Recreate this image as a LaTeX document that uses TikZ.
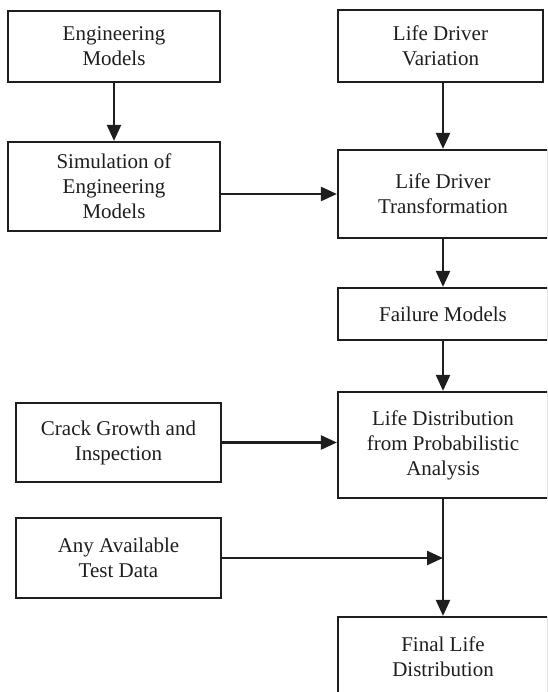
\documentclass[tikz,border=0pt]{standalone}
\usepackage{fontspec}
\setmainfont{Liberation Serif}
\usetikzlibrary{arrows.meta,calc}
\definecolor{ink}{RGB}{30,30,30}
\tikzset{
  box/.style={draw=ink, line width=2.2pt, rectangle, align=center, inner sep=2pt,
    font=\fontsize{21}{25}\selectfont, text=ink},
  flow/.style={draw=ink, line width=2.4pt, -{Triangle[length=16pt,width=14pt]}}
}
\begin{document}
\begin{tikzpicture}[x=1pt,y=-1pt]
\useasboundingbox (0,0) rectangle (547,692);
\clip (0,0) rectangle (547,692);
\node[box, minimum width=212pt, minimum height=71pt] (em) at (114,46.5) {Engineering\\Models};
\node[box, minimum width=205pt, minimum height=72pt] (ldv) at (440.5,46) {Life Driver\\Variation};
\node[box, minimum width=212pt, minimum height=89pt] (sim) at (114,186.5) {Simulation of\\Engineering\\Models};
\node[box, minimum width=210pt, minimum height=88pt] (ldt) at (443,194) {Life Driver\\Transformation};
\node[box, minimum width=210pt, minimum height=52pt] (fm) at (443,314) {Failure Models};
\node[box, minimum width=205pt, minimum height=79pt] (cg) at (118.5,442.5) {Crack Growth and\\Inspection};
\node[box, minimum width=210pt, minimum height=106pt] (ld) at (443,445) {Life Distribution\\from Probabilistic\\Analysis};
\node[box, minimum width=205pt, minimum height=80pt] (ad) at (118.5,558) {Any Available\\Test Data};
\node[box, minimum width=210pt, minimum height=80pt] (fl) at (443,657) {Final Life\\Distribution};
\coordinate (j) at (ld.south |- ad.east);
\draw[flow] (em.south) -- (sim.north);
\draw[flow] (ldt.north |- ldv.south) -- (ldt.north);
\draw[flow] (sim.east |- ldt.west) -- (ldt.west);
\draw[flow] (ldt.south) -- (fm.north);
\draw[flow] (fm.south) -- (ld.north);
\draw[flow] (cg.east) -- (cg.east -| ld.west);
\draw[flow] (ld.south) -- (fl.north);
\draw[flow] (ad.east) -- (j);
\end{tikzpicture}
\end{document}
